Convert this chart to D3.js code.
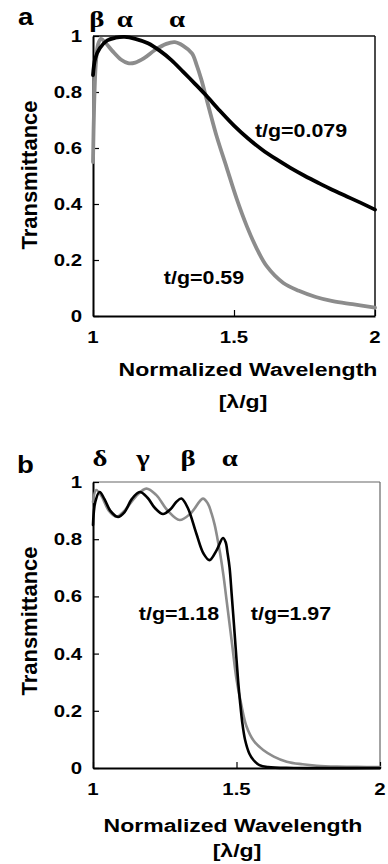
<!DOCTYPE html>
<html>
<head>
<meta charset="utf-8">
<script src="https://cdn.jsdelivr.net/npm/d3@7"></script>
<style>
  html, body { margin: 0; padding: 0; background: #fff; }
  svg { display: block; }
</style>
</head>
<body>
<svg id="chart" width="388" height="864"></svg>
<script>
// ---------- DATA ----------
const ticksX = [1, 1.5, 2];
const tickLabelsX = ["1", "1.5", "2"];
const ticksY = [0, 0.2, 0.4, 0.6, 0.8, 1];
const tickLabelsY = ["0", "0.2", "0.4", "0.6", "0.8", "1"];

// Panel a: t/g = 0.079 (black)
const aBlackWl = [1.000, 1.008, 1.024, 1.05, 1.08, 1.112, 1.15, 1.195, 1.24, 1.278, 1.32, 1.36, 1.40, 1.45, 1.50, 1.55, 1.60, 1.65, 1.70, 1.75, 1.80, 1.85, 1.90, 1.95, 2.0];
const aBlackT  = [0.86, 0.92, 0.956, 0.984, 0.994, 0.997, 0.99, 0.974, 0.945, 0.914, 0.872, 0.831, 0.789, 0.733, 0.680, 0.634, 0.594, 0.560, 0.529, 0.501, 0.475, 0.450, 0.427, 0.404, 0.38];
// Panel a: t/g = 0.59 (grey)
const aGreyWl = [1.000, 1.004, 1.01, 1.018, 1.028, 1.045, 1.07, 1.10, 1.124, 1.15, 1.18, 1.22, 1.26, 1.29, 1.32, 1.351, 1.368, 1.384, 1.40, 1.415, 1.439, 1.474, 1.509, 1.545, 1.581, 1.616, 1.675, 1.73, 1.79, 1.85, 1.92, 2.0];
const aGreyT  = [0.55, 0.75, 0.90, 0.97, 0.99, 0.975, 0.945, 0.915, 0.903, 0.905, 0.92, 0.95, 0.972, 0.978, 0.965, 0.938, 0.895, 0.845, 0.785, 0.728, 0.64, 0.53, 0.42, 0.322, 0.24, 0.178, 0.118, 0.09, 0.068, 0.053, 0.042, 0.03];
const aModes = ["β", "α", "α"];
const aModeWl = [1.014, 1.113, 1.298];

// Panel b: t/g = 1.97 (black)
const bBlackWl = [1.000, 1.008, 1.023, 1.04, 1.06, 1.087, 1.11, 1.135, 1.163, 1.19, 1.215, 1.244, 1.27, 1.29, 1.308, 1.33, 1.36, 1.385, 1.406, 1.43, 1.453, 1.462, 1.469, 1.476, 1.483, 1.492, 1.50, 1.506, 1.512, 1.52, 1.53, 1.545, 1.559, 1.58, 1.61, 1.70, 2.0];
const bBlackT  = [0.85, 0.93, 0.965, 0.94, 0.90, 0.878, 0.895, 0.94, 0.965, 0.945, 0.91, 0.888, 0.905, 0.93, 0.942, 0.91, 0.82, 0.75, 0.727, 0.76, 0.804, 0.79, 0.75, 0.70, 0.61, 0.49, 0.38, 0.30, 0.235, 0.16, 0.098, 0.05, 0.028, 0.01, 0.003, 0.0, 0.0];
// Panel b: t/g = 1.18 (grey)
const bGreyWl = [1.000, 1.011, 1.03, 1.055, 1.081, 1.11, 1.15, 1.186, 1.22, 1.26, 1.302, 1.34, 1.383, 1.40, 1.413, 1.424, 1.434, 1.443, 1.455, 1.465, 1.475, 1.485, 1.50, 1.515, 1.535, 1.56, 1.593, 1.63, 1.675, 1.73, 1.78, 1.85, 1.92, 2.0];
const bGreyT  = [0.93, 0.972, 0.95, 0.90, 0.879, 0.90, 0.95, 0.977, 0.955, 0.90, 0.867, 0.89, 0.942, 0.925, 0.89, 0.85, 0.80, 0.75, 0.67, 0.59, 0.51, 0.43, 0.31, 0.23, 0.145, 0.095, 0.063, 0.04, 0.022, 0.013, 0.008, 0.005, 0.004, 0.003];
const bModes = ["δ", "γ", "β", "α"];
const bModeWl = [1.024, 1.174, 1.331, 1.477];

// ---------- DRAW ----------
const svg = d3.select("#chart");
const SANS = "'Liberation Sans', Arial, sans-serif";
const SERIF = "'Liberation Serif', 'Times New Roman', serif";
const GREY = "#8c8c8c";

function label(g, x, y, txt, size, sx, anchor, family) {
  return g.append("text")
    .attr("transform", `translate(${x},${y}) scale(${sx},1)`)
    .attr("text-anchor", anchor || "middle")
    .style("font-family", family || SANS)
    .style("font-weight", "bold")
    .style("font-size", size + "px")
    .attr("fill", "#000")
    .text(txt);
}

function panel(cfg) {
  const g = svg.append("g");
  const x = d3.scaleLinear().domain([1, 2]).range([cfg.left, cfg.right]);
  const y = d3.scaleLinear().domain([0, 1]).range([cfg.bottom, cfg.top]);

  // box top/right
  g.append("line").attr("x1", cfg.left).attr("x2", cfg.right).attr("y1", cfg.top).attr("y2", cfg.top)
    .attr("stroke", cfg.boxColor).attr("stroke-width", cfg.boxWidth);
  g.append("line").attr("x1", cfg.right).attr("x2", cfg.right).attr("y1", cfg.top).attr("y2", cfg.bottom)
    .attr("stroke", cfg.boxColor).attr("stroke-width", cfg.boxWidth);

  // axes
  const yAxis = d3.axisLeft(y).tickValues(ticksY).tickSizeInner(-6).tickSizeOuter(0).tickFormat("");
  const xAxis = d3.axisBottom(x).tickValues(ticksX).tickSizeInner(-6).tickSizeOuter(0).tickFormat("");
  const gy = g.append("g").attr("transform", `translate(${cfg.left},0)`).call(yAxis);
  const gx = g.append("g").attr("transform", `translate(0,${cfg.bottom})`).call(xAxis);
  [gy, gx].forEach(a => {
    a.select(".domain").attr("stroke", "#000").attr("stroke-width", 2);
    a.selectAll(".tick line").attr("stroke", "#000").attr("stroke-width", 1.2);
  });

  ticksY.forEach((v, i) => label(g, cfg.left - 11, y(v) + 6, tickLabelsY[i], 17, 1.2, "end"));
  ticksX.forEach((v, i) => label(g, x(v), cfg.bottom + 27, tickLabelsX[i], 17, 1.2, "middle"));

  // curves
  const line = d3.line().x(d => x(d[0])).y(d => y(d[1])).curve(d3.curveCatmullRom.alpha(0.5));
  cfg.series.forEach(s => {
    g.append("path").datum(d3.zip(s.wl, s.t)).attr("d", line)
      .attr("fill", "none").attr("stroke", s.color).attr("stroke-width", cfg.lineWidth)
      .attr("stroke-linejoin", "round").attr("stroke-linecap", "round");
  });

  // curve labels
  cfg.curveLabels.forEach(c => label(g, c.x, c.y, c.text, 18, 1.19, "middle"));

  // mode letters
  cfg.modes.forEach((m, i) => label(g, x(cfg.modeWl[i]), cfg.modeY, m, 24, 1.2, "middle", SERIF));

  // panel letter
  label(g, cfg.letterX, cfg.letterY, cfg.letter, 23, 1.2, "start");

  // axis titles
  label(g, cfg.xTitleX, cfg.xTitleY, "Normalized Wavelength", 18, 1.28, "middle");
  label(g, cfg.xTitleX2, cfg.xTitleY2, "[λ/g]", 18, 1.28, "middle");
  g.append("text")
    .attr("transform", `translate(37,${cfg.yTitleY}) rotate(-90)`)
    .attr("text-anchor", "middle")
    .style("font-family", SANS).style("font-weight", "bold").style("font-size", "22px")
    .text("Transmittance");
}

panel({
  left: 93, right: 375, top: 36, bottom: 316,
  boxColor: "#111", boxWidth: 1.5, lineWidth: 3.8,
  series: [
    { wl: aGreyWl, t: aGreyT, color: GREY },
    { wl: aBlackWl, t: aBlackT, color: "#000" }
  ],
  curveLabels: [
    { text: "t/g=0.079", x: 301, y: 137 },
    { text: "t/g=0.59", x: 204, y: 284 }
  ],
  modes: aModes, modeWl: aModeWl, modeY: 27,
  letter: "a", letterX: 18, letterY: 25,
  xTitleX: 248, xTitleY: 376, xTitleX2: 243, xTitleY2: 408,
  yTitleY: 175
});

panel({
  left: 93, right: 380, top: 482, bottom: 768,
  boxColor: "#666", boxWidth: 1.2, lineWidth: 2.6,
  series: [
    { wl: bGreyWl, t: bGreyT, color: GREY },
    { wl: bBlackWl, t: bBlackT, color: "#000" }
  ],
  curveLabels: [
    { text: "t/g=1.18", x: 179, y: 620 },
    { text: "t/g=1.97", x: 291, y: 620 }
  ],
  modes: bModes, modeWl: bModeWl, modeY: 466,
  letter: "b", letterX: 17, letterY: 473,
  xTitleX: 233, xTitleY: 832, xTitleX2: 237, xTitleY2: 857,
  yTitleY: 621
});
</script>
</body>
</html>
